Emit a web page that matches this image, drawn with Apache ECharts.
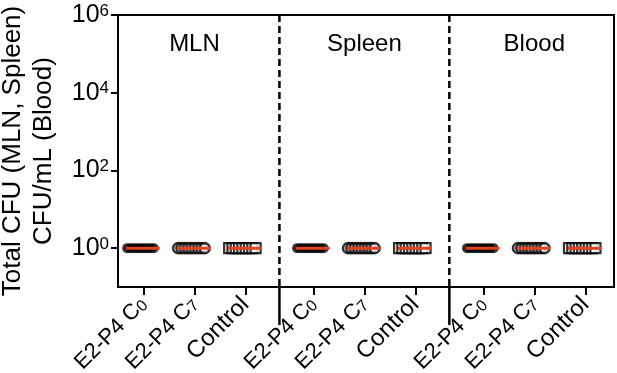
<!DOCTYPE html>
<html><head><meta charset="utf-8">
<script src="https://cdn.jsdelivr.net/npm/echarts@6/dist/echarts.min.js"></script>
<style>html,body{margin:0;padding:0;background:#fff}#c{width:617px;height:373px}</style>
</head><body><div id="c"></div>
<script>
// ---- data ----
const tissues = ['MLN', 'Spleen', 'Blood'];
const groupMain = ['E2-P4 C', 'E2-P4 C', 'Control'];
const groupSub = ['0', '7', ''];
// CFU values per tissue (all animals at 10^0)
const mlnC0 = [1, 1, 1, 1, 1, 1, 1, 1, 1];
const mlnC7 = [1, 1, 1, 1, 1, 1, 1, 1, 1];
const mlnCtrl = [1, 1, 1, 1, 1, 1, 1, 1, 1];
const spleenC0 = [1, 1, 1, 1, 1, 1, 1, 1, 1];
const spleenC7 = [1, 1, 1, 1, 1, 1, 1, 1, 1];
const spleenCtrl = [1, 1, 1, 1, 1, 1, 1, 1, 1];
const bloodC0 = [1, 1, 1, 1, 1, 1, 1, 1, 1];
const bloodC7 = [1, 1, 1, 1, 1, 1, 1, 1, 1];
const bloodCtrl = [1, 1, 1, 1, 1, 1, 1, 1, 1];
const yTicks = [1, 100, 10000, 1000000];

const values = [
  [mlnC0, mlnC7, mlnCtrl],
  [spleenC0, spleenC7, spleenCtrl],
  [bloodC0, bloodC7, bloodCtrl]
];

// ---- layout helpers ----
const TISSUE_STEP = 10 / 3;
function catPos(t, g) { return t * TISSUE_STEP + g; }
const catPositions = [];
for (let t = 0; t < 3; t++) for (let g = 0; g < 3; g++) catPositions.push(catPos(t, g));
const dividerPos = [TISSUE_STEP - 2 / 3, 2 * TISSUE_STEP - 2 / 3];

function spread(n, i) { // dot-plot spreading of tied values
  const a = -0.32, b = 0.2;
  return n === 1 ? 0 : a + (b - a) * i / (n - 1);
}
function median(arr) {
  const s = arr.slice().sort((x, y) => x - y);
  const m = Math.floor(s.length / 2);
  return s.length % 2 ? s[m] : (s[m - 1] + s[m]) / 2;
}

function seriesData(g) {
  const out = [];
  for (let t = 0; t < 3; t++) {
    const arr = values[t][g];
    arr.forEach((v, i) => out.push([catPos(t, g) + spread(arr.length, i), v]));
  }
  return out;
}
const medData = [];
for (let t = 0; t < 3; t++) for (let g = 0; g < 3; g++) {
  const m = median(values[t][g]);
  medData.push([catPos(t, g) - 0.34, m], [catPos(t, g) + 0.32, m], '-');
}

const chart = echarts.init(document.getElementById('c'));
const FONT = 'Liberation Sans, Arial, sans-serif';
const option = {
  animation: false,
  textStyle: { fontFamily: FONT, color: '#000' },
  grid: { left: 118, right: 3, top: 15, bottom: 86, containLabel: false, outerBoundsMode: 'none', show: true, borderColor: '#000', borderWidth: 2, backgroundColor: 'transparent' },
  xAxis: {
    type: 'value', min: -0.5, max: 9.23,
    splitLine: { show: false },
    axisLine: { show: true, onZero: false, lineStyle: { color: '#000', width: 2 } },
    axisTick: { show: true, customValues: catPositions, length: 8, lineStyle: { color: '#000', width: 2 } },
    axisLabel: {
      customValues: catPositions, rotate: 45, margin: 14,
      formatter: function (v) {
        let k = 0;
        catPositions.forEach((p, i) => { if (Math.abs(p - v) < 0.01) k = i % 3; });
        return groupSub[k] ? '{m|' + groupMain[k] + '}{s|' + groupSub[k] + '}' : '{c|' + groupMain[k] + '}';
      },
      rich: {
        m: { fontSize: 22, fontFamily: FONT, color: '#000' },
        c: { fontSize: 24, fontFamily: FONT, color: '#000' },
        s: { fontSize: 16, fontFamily: FONT, color: '#000', verticalAlign: 'bottom' }
      }
    }
  },
  yAxis: {
    type: 'log', logBase: 10, min: 0.1, max: 1000000,
    splitLine: { show: false },
    axisLine: { show: true, onZero: false, lineStyle: { color: '#000', width: 2 } },
    axisTick: { show: true, customValues: yTicks, length: 7, lineStyle: { color: '#000', width: 2 } },
    axisLabel: {
      customValues: yTicks, margin: 9,
      formatter: function (v) { return '{b|10}{p|' + Math.round(Math.log10(v)) + '}'; },
      rich: {
        b: { fontSize: 25, fontFamily: FONT, color: '#000' },
        p: { fontSize: 17, fontFamily: FONT, color: '#000', verticalAlign: 'top' }
      }
    },
    name: 'Total CFU (MLN, Spleen)\nCFU/mL (Blood)',
    nameLocation: 'middle', nameGap: 59,
    nameTextStyle: { fontSize: 26, lineHeight: 31, fontFamily: FONT, color: '#000', align: 'center' }
  },
  series: [
    { type: 'scatter', name: 'E2-P4 C0', symbol: 'circle', symbolSize: 10, itemStyle: { color: '#000' }, data: seriesData(0), z: 3 },
    { type: 'scatter', name: 'E2-P4 C7', symbol: 'circle', symbolSize: 10, itemStyle: { color: '#fff', borderColor: '#000', borderWidth: 2.6 }, data: seriesData(1), z: 3 },
    { type: 'scatter', name: 'Control', symbol: 'rect', symbolSize: 10, itemStyle: { color: '#fff', borderColor: '#000', borderWidth: 2.2 }, data: seriesData(2), z: 3 },
    { type: 'line', name: 'median', data: medData, symbol: 'none', connectNulls: false, lineStyle: { color: '#e5411e', width: 3 }, z: 5 }
  ]
};
chart.setOption(option);

const gfx = [];
dividerPos.forEach(x => {
  const top = chart.convertToPixel({ gridIndex: 0 }, [x, 1000000]);
  const bot = chart.convertToPixel({ gridIndex: 0 }, [x, 0.1]);
  gfx.push({ type: 'line', shape: { x1: top[0], y1: top[1], x2: bot[0], y2: bot[1] }, style: { stroke: '#000', lineWidth: 2.5, lineDash: [7, 4] }, z: 10 });
  gfx.push({ type: 'line', shape: { x1: bot[0], y1: bot[1], x2: bot[0], y2: bot[1] + 38 }, style: { stroke: '#000', lineWidth: 2.5 }, z: 10 });
});
tissues.forEach((name, t) => {
  const p = chart.convertToPixel({ gridIndex: 0 }, [catPos(t, 1), 1000000]);
  gfx.push({ type: 'text', x: p[0], y: p[1] + 29, style: { text: name, fontSize: 24, fontFamily: FONT, fill: '#000', align: 'center', verticalAlign: 'middle' }, z: 10 });
});
chart.setOption({ graphic: gfx });
</script>
</body></html>
